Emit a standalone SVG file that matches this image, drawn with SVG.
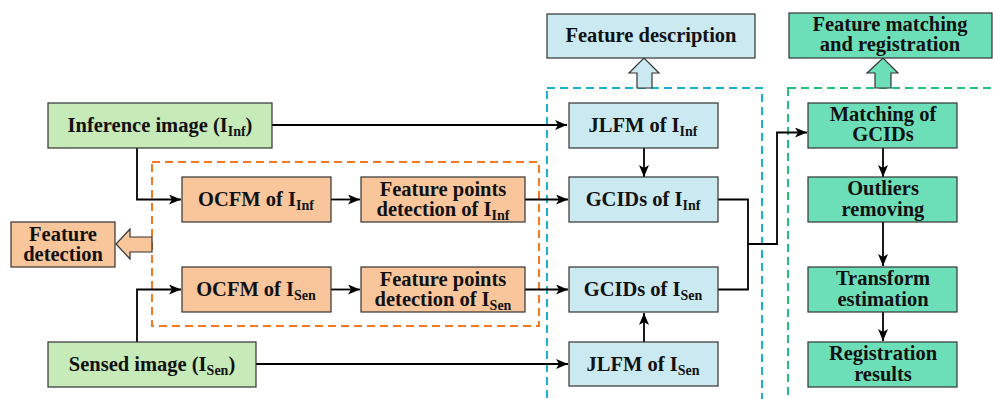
<svg xmlns="http://www.w3.org/2000/svg" width="993" height="399" viewBox="0 0 993 399">
  <defs>
    <marker id="arr" viewBox="0 0 12 10" refX="12" refY="5" markerWidth="12" markerHeight="10" markerUnits="userSpaceOnUse" orient="auto">
      <path d="M0,0 L12,5 L0,10 L3,5 Z" fill="#000"/>
    </marker>
    <style>
      text { font-family: "Liberation Serif", "Times New Roman", "DejaVu Serif", serif; font-weight: 700; font-size: 20.5px; fill: #111; text-anchor: middle; }
      .sub { font-size: 14px; }
      .box { stroke: #333; stroke-width: 1.2; }
      .g1 { fill: #c7eab9; }
      .or { fill: #f9c59b; }
      .cy { fill: #cbe9f1; }
      .tl { fill: #6ddfb8; }
      .conn { fill: none; stroke: #000; stroke-width: 1.8; }
      .hollow { stroke: #333; stroke-width: 1.2; }
    </style>
  </defs>

  <!-- dashed grouping frames -->
  <rect x="152" y="162" width="387" height="164" fill="none" stroke="#f47920" stroke-width="2" stroke-dasharray="8,5"/>
  <rect x="547" y="88" width="215" height="330" fill="none" stroke="#1ab0cf" stroke-width="2" stroke-dasharray="8,5"/>
  <rect x="788" y="88" width="220" height="330" fill="none" stroke="#22c07a" stroke-width="2" stroke-dasharray="8,5"/>

  <!-- connectors -->
  <g id="connectors">
    <polyline class="conn" points="272,125 567,125" marker-end="url(#arr)"/>
    <polyline class="conn" points="137,148 137,199.5 181,199.5" marker-end="url(#arr)"/>
    <polyline class="conn" points="331,199.5 360,199.5" marker-end="url(#arr)"/>
    <polyline class="conn" points="525,199.5 568,199.5" marker-end="url(#arr)"/>
    <polyline class="conn" points="137,342 137,289.5 181,289.5" marker-end="url(#arr)"/>
    <polyline class="conn" points="331,289.5 360,289.5" marker-end="url(#arr)"/>
    <polyline class="conn" points="525,289.5 568,289.5" marker-end="url(#arr)"/>
    <polyline class="conn" points="256,364 568,364" marker-end="url(#arr)"/>
    <polyline class="conn" points="644,148 644,177" marker-end="url(#arr)"/>
    <polyline class="conn" points="644,342 644,313" marker-end="url(#arr)"/>
    <polyline class="conn" points="718,199.5 748,199.5 748,289.5 718,289.5"/>
    <polyline class="conn" points="748,244 777,244 777,132.5 807,132.5" marker-end="url(#arr)"/>
    <polyline class="conn" points="883,148 883,177" marker-end="url(#arr)"/>
    <polyline class="conn" points="883,222 883,266" marker-end="url(#arr)"/>
    <polyline class="conn" points="883,312 883,341" marker-end="url(#arr)"/>
  </g>

  <!-- hollow block arrows -->
  <path class="hollow or" d="M152,237 L130,237 L130,229 L116,244 L130,259 L130,252 L152,252 Z"/>
  <path class="hollow cy" d="M637,88 L637,73 L629,73 L644,58 L659,73 L652,73 L652,88 Z"/>
  <path class="hollow tl" d="M875,88 L875,73 L867,73 L883,58 L898,73 L891,73 L891,88 Z"/>

  <g id="inference-image">
    <rect class="box g1" x="48" y="103" width="224" height="45"/>
    <text x="160" y="132">Inference image (I<tspan class="sub" dy="4">Inf</tspan><tspan dy="-4">)</tspan></text>
  </g>
  <g id="sensed-image">
    <rect class="box g1" x="48" y="342" width="208" height="45"/>
    <text x="152" y="371">Sensed image (I<tspan class="sub" dy="4">Sen</tspan><tspan dy="-4">)</tspan></text>
  </g>
  <g id="feature-detection">
    <rect class="box or" x="11" y="222" width="104" height="45"/>
    <text x="63" y="241">Feature</text>
    <text x="63" y="261">detection</text>
  </g>
  <g id="ocfm-inf">
    <rect class="box or" x="182" y="177" width="149" height="45"/>
    <text x="256" y="206">OCFM of I<tspan class="sub" dy="4">Inf</tspan></text>
  </g>
  <g id="ocfm-sen">
    <rect class="box or" x="182" y="267" width="149" height="45"/>
    <text x="256" y="296">OCFM of I<tspan class="sub" dy="4">Sen</tspan></text>
  </g>
  <g id="fpd-inf">
    <rect class="box or" x="361" y="177" width="164" height="45"/>
    <text x="443" y="196">Feature points</text>
    <text x="443" y="216">detection of I<tspan class="sub" dy="4">Inf</tspan></text>
  </g>
  <g id="fpd-sen">
    <rect class="box or" x="361" y="267" width="164" height="45"/>
    <text x="443" y="286">Feature points</text>
    <text x="443" y="306">detection of I<tspan class="sub" dy="4">Sen</tspan></text>
  </g>
  <g id="feature-description">
    <rect class="box cy" x="547" y="14" width="208" height="44"/>
    <text x="651" y="42">Feature description</text>
  </g>
  <g id="jlfm-inf">
    <rect class="box cy" x="569" y="103" width="149" height="45"/>
    <text x="643" y="132">JLFM of I<tspan class="sub" dy="4">Inf</tspan></text>
  </g>
  <g id="gcids-inf">
    <rect class="box cy" x="569" y="177" width="149" height="45"/>
    <text x="643" y="206">GCIDs of I<tspan class="sub" dy="4">Inf</tspan></text>
  </g>
  <g id="gcids-sen">
    <rect class="box cy" x="569" y="267" width="149" height="45"/>
    <text x="643" y="296">GCIDs of I<tspan class="sub" dy="4">Sen</tspan></text>
  </g>
  <g id="jlfm-sen">
    <rect class="box cy" x="569" y="342" width="149" height="44"/>
    <text x="643" y="371">JLFM of I<tspan class="sub" dy="4">Sen</tspan></text>
  </g>
  <g id="feature-matching">
    <rect class="box tl" x="789" y="13" width="203" height="45"/>
    <text x="890" y="31">Feature matching</text>
    <text x="890" y="51">and registration</text>
  </g>
  <g id="matching-gcids">
    <rect class="box tl" x="808" y="103" width="149" height="45"/>
    <text x="883" y="121">Matching of</text>
    <text x="883" y="141">GCIDs</text>
  </g>
  <g id="outliers-removing">
    <rect class="box tl" x="808" y="177" width="149" height="45"/>
    <text x="883" y="195">Outliers</text>
    <text x="883" y="216">removing</text>
  </g>
  <g id="transform-estimation">
    <rect class="box tl" x="808" y="267" width="149" height="45"/>
    <text x="883" y="285">Transform</text>
    <text x="883" y="306">estimation</text>
  </g>
  <g id="registration-results">
    <rect class="box tl" x="808" y="342" width="149" height="45"/>
    <text x="883" y="360">Registration</text>
    <text x="883" y="381">results</text>
  </g>
</svg>
